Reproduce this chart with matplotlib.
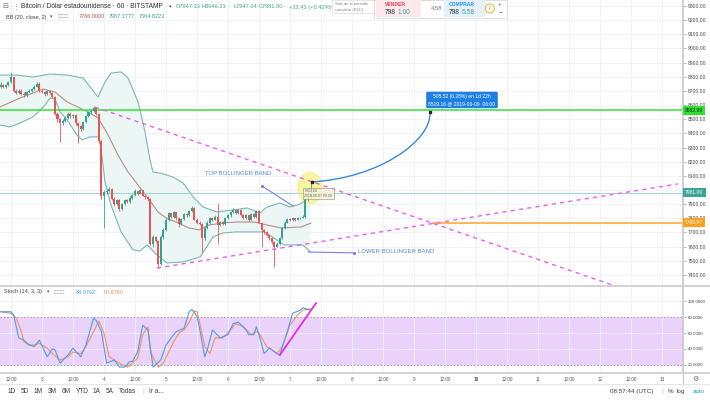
import numpy as np
import matplotlib
matplotlib.use("Agg")
import matplotlib.pyplot as plt
from matplotlib.path import Path
from matplotlib.patches import PathPatch, Ellipse, Rectangle
from matplotlib.lines import Line2D

plt.rcParams['font.family'] = ['Liberation Sans', 'DejaVu Sans']

# ---------------- data (hours counted from 2019-06-02 00:00, 1h candles) ----------------
first_hour = 8
open_ = [8730, 8745, 8725, 8740, 8762, 8795, 8700, 8688, 8702, 8680,
         8668, 8690, 8700, 8712, 8730, 8752, 8700, 8690, 8678, 8700,
         8688, 8660, 8540, 8500, 8470, 8490, 8510, 8540, 8520, 8530,
         8470, 8450, 8430, 8480, 8522, 8548, 8560, 8576, 8540, 8345,
         7955, 7985, 7995, 8010, 7940, 7900, 7930, 7865, 7900, 7930,
         7912, 7945, 7962, 7990, 7975, 7998, 7960, 7950, 7940, 7620,
         7665, 7640, 7475, 7665, 7720, 7790, 7835, 7810, 7842, 7800,
         7760, 7792, 7830, 7820, 7852, 7875, 7790, 7770, 7760, 7660,
         7730, 7770, 7800, 7790, 7810, 7752, 7772, 7760, 7800, 7820,
         7845, 7860, 7835, 7860, 7825, 7800, 7820, 7790, 7830, 7810,
         7855, 7770, 7720, 7700, 7680, 7660, 7630, 7600, 7622, 7660,
         7730, 7770, 7795, 7785, 7800, 7790, 7800, 7805, 7812, 7935,
         7947.33]
high = [8760, 8750, 8750, 8770, 8830, 8800, 8710, 8712, 8710, 8690,
        8698, 8712, 8720, 8740, 8760, 8760, 8712, 8700, 8708, 8705,
        8695, 8665, 8548, 8510, 8500, 8520, 8550, 8548, 8540, 8540,
        8478, 8460, 8490, 8530, 8556, 8570, 8590, 8580, 8545, 8350,
        8000, 8010, 8020, 8015, 7948, 7940, 7938, 7910, 7940, 7940,
        7955, 7975, 8007, 7995, 8005, 8000, 7968, 7958, 7945, 7680,
        7675, 7650, 7680, 7730, 7800, 7845, 7840, 7850, 7848, 7810,
        7800, 7840, 7840, 7860, 7885, 7880, 7800, 7780, 7768, 7740,
        7780, 7810, 7808, 7820, 7905, 7780, 7780, 7808, 7830, 7855,
        7870, 7868, 7868, 7865, 7830, 7828, 7825, 7838, 7835, 7862,
        7860, 7775, 7728, 7708, 7690, 7668, 7640, 7630, 7668, 7738,
        7778, 7805, 7800, 7810, 7805, 7808, 7812, 7820, 7945, 8005,
        8046.23]
low = [8722, 8718, 8720, 8735, 8755, 8690, 8680, 8680, 8670, 8655,
       8660, 8685, 8695, 8705, 8725, 8695, 8682, 8665, 8672, 8680,
       8650, 8530, 8480, 8340, 8462, 8482, 8500, 8510, 8512, 8460,
       8335, 8420, 8425, 8470, 8515, 8540, 8550, 8530, 8335, 7940,
       7735, 7975, 7985, 7930, 7890, 7895, 7855, 7858, 7895, 7905,
       7905, 7938, 7955, 7965, 7970, 7955, 7940, 7925, 7610, 7600,
       7630, 7450, 7470, 7655, 7712, 7780, 7800, 7805, 7790, 7740,
       7752, 7785, 7812, 7815, 7845, 7785, 7760, 7750, 7562, 7650,
       7722, 7762, 7782, 7785, 7620, 7745, 7752, 7755, 7792, 7812,
       7838, 7828, 7830, 7818, 7795, 7795, 7782, 7785, 7800, 7805,
       7765, 7600, 7692, 7672, 7650, 7622, 7455, 7595, 7615, 7652,
       7722, 7765, 7778, 7780, 7782, 7785, 7795, 7800, 7805, 7925,
       7947.04]
close = [8745, 8725, 8740, 8762, 8795, 8700, 8688, 8702, 8680, 8668,
         8690, 8700, 8712, 8730, 8752, 8700, 8690, 8678, 8700, 8688,
         8660, 8540, 8500, 8470, 8490, 8510, 8540, 8520, 8530, 8470,
         8450, 8430, 8480, 8522, 8548, 8560, 8576, 8540, 8345, 7955,
         7985, 7995, 8010, 7940, 7900, 7930, 7865, 7900, 7930, 7912,
         7945, 7962, 7990, 7975, 7998, 7960, 7950, 7940, 7620, 7665,
         7640, 7475, 7665, 7720, 7790, 7835, 7810, 7842, 7800, 7760,
         7792, 7830, 7820, 7852, 7875, 7790, 7770, 7760, 7660, 7730,
         7770, 7800, 7790, 7810, 7752, 7772, 7760, 7800, 7820, 7845,
         7860, 7835, 7860, 7825, 7800, 7820, 7790, 7830, 7810, 7855,
         7770, 7720, 7700, 7680, 7660, 7630, 7600, 7622, 7660, 7730,
         7770, 7795, 7785, 7800, 7790, 7800, 7805, 7812, 7935, 7947,
         7981.00]

# Bollinger Bands (20, close, 2)
bb_upper_h = [7.7, 14.3, 20.5, 27.1, 33.7, 39.9, 45.7, 48.4, 50.7, 54.6,
              57.3, 61.2, 63.9, 65.8, 67.0, 69.7, 74.7, 78.6, 82.5, 86.3,
              91.8, 97.9, 103.4, 108.4, 111.1, 116.1, 120.0, 123.9, 126.2, 127.8]
bb_upper = [8812, 8812, 8798, 8819, 8812, 8791, 8657, 8763, 8826, 8834,
            8791, 8622, 8410, 8212, 8127, 8120, 8092, 8050, 7951, 7880,
            7845, 7859, 7873, 7838, 7880, 7908, 7880, 7901, 7930, 7967]
bb_lower_h = [7.7, 11.6, 15.5, 20.5, 25.2, 27.1, 29.0, 31.0, 33.7, 37.5,
              39.5, 42.6, 46.1, 47.2, 48.4, 50.7, 54.6, 59.2, 61.9, 64.7,
              68.5, 72.4, 78.6, 85.2, 87.5, 90.2, 94.1, 99.1, 104.5, 110.0,
              113.8, 117.7, 125.0, 127.8]
bb_lower = [8459, 8445, 8473, 8516, 8600, 8650, 8643, 8551, 8495, 8389,
            8353, 8375, 8375, 8240, 8057, 7894, 7704, 7577, 7569, 7612,
            7541, 7485, 7492, 7527, 7591, 7668, 7697, 7704, 7704, 7704,
            7661, 7612, 7612, 7565]
bb_mid_h = [7.7, 15.5, 24.4, 29.0, 33.7, 37.9, 41.8, 45.7, 49.6, 53.4,
            57.3, 61.2, 65.0, 68.9, 72.0, 75.9, 80.9, 84.8, 88.7, 94.1,
            99.1, 106.1, 111.1, 116.5, 124.3, 128.1]
bb_mid = [8586, 8650, 8713, 8692, 8622, 8586, 8551, 8509, 8389, 8247,
          8127, 8036, 7944, 7845, 7803, 7774, 7732, 7718, 7753, 7767,
          7774, 7774, 7753, 7732, 7739, 7766]

# Stochastic (14, 3, 3)
stoch_k_h = [8, 12, 13, 15, 17, 19, 21, 23, 26, 28, 29, 31, 34, 36, 39, 41, 44, 45, 47, 49,
             52, 54, 56, 58, 59, 61, 63, 65, 67, 68, 70, 72, 74, 76, 79, 81, 82, 84, 85, 87,
             88, 90, 93, 96, 98, 100, 103, 104, 106, 107, 108, 110, 112, 115, 116, 119, 121, 124, 125, 128]
stoch_k = [87, 87, 83, 54, 51, 45, 43, 51, 30, 40, 39, 22, 32, 41, 30, 45, 79, 76, 62, 22,
           26, 17, 17, 24, 24, 36, 70, 64, 17, 20, 26, 45, 54, 62, 66, 87, 90, 81, 66, 30,
           39, 64, 54, 58, 72, 74, 64, 58, 58, 68, 58, 34, 41, 34, 32, 62, 85, 89, 92, 88.98]
stoch_d_h = [8, 12, 14, 16, 17, 19, 21, 23, 26, 28, 31, 34, 36, 39, 41, 44, 46, 48, 50, 52,
             55, 57, 59, 61, 63, 65, 66, 69, 71, 73, 75, 77, 79, 81, 83, 84, 85, 87, 89, 91,
             94, 97, 99, 102, 105, 107, 108, 111, 113, 115, 117, 120, 123, 125, 128]
stoch_d = [87, 85, 79, 62, 49, 45, 45, 47, 41, 34, 26, 30, 36, 34, 43, 62, 75, 60, 30, 26,
           20, 17, 22, 28, 58, 68, 36, 17, 22, 36, 49, 60, 64, 74, 88, 87, 74, 43, 34, 54,
           54, 64, 72, 68, 58, 62, 60, 43, 39, 34, 43, 70, 83, 89, 90.68]

# drawings (hour, value)
level_green = 8562.99
level_orange = 7769.97
last_price = 7981.00
orange_start_h = 175
trend_down_h, trend_down_p = [44.5, 262.0], [8586, 7221]
trend_up_h, trend_up_p = [68.5, 270.2], [7449, 8043]
stoch_line_h, stoch_line_v = [116.1, 130.1], [32.3, 98.0]
forecast_h = [128.5, 154.9, 175.0, 174.2]
forecast_p = [8057, 8085, 8353, 8551]

tick_hours = list(range(12, 265, 12))
tick_labels = ['12:00', '3', '12:00', '4', '12:00', '5', '12:00', '6', '12:00', '7', '12:00',
               '8', '12:00', '9', '12:00', '10', '12:00', '11', '12:00', '12', '12:00', '13']
price_ticks = list(range(7400, 9301, 100))
hidden_price_ticks = [8000]          # covered by the last-price tag
stoch_ticks = [20, 40, 60, 80, 100]

# ---------------- figure ----------------
W, H = 710, 400
fig = plt.figure(figsize=(7.1, 4.0), dpi=100)
fig.patch.set_facecolor('white')

def fx(px):
    return px / W

def fy(py):
    return 1 - py / H

PX_PER_H = 2.583
XLIM = (24 - 42 / PX_PER_H, 24 + (683 - 42) / PX_PER_H)
GRID = '#eef0f5'
AXC = '#c9ccd3'
UP, DN = '#33a58a', '#ec5353'

# ---- main price pane ----
ax = fig.add_axes([0, fy(286), fx(683), 286 / H])
ax.set_xlim(*XLIM)
ax.set_ylim(7322, 9342)
for s in ['top', 'left', 'bottom']:
    ax.spines[s].set_visible(False)
ax.spines['right'].set_color(AXC)
ax.spines['right'].set_linewidth(1.3)
ax.yaxis.tick_right()
ax.set_yticks(price_ticks)
ax.set_yticklabels(['' if p in hidden_price_ticks else f'{p:.2f}' for p in price_ticks])
ax.tick_params(axis='y', length=2, width=0.5, color='#9a9a9a', pad=1.5,
               labelsize=3.6, labelcolor='#444444')
ax.set_xticks(tick_hours)
ax.tick_params(axis='x', length=0, labelbottom=False)
ax.grid(True, color=GRID, lw=0.6)
ax.set_axisbelow(True)

hrs = np.arange(first_hour, first_hour + len(close))
o = np.array(open_, float); c = np.array(close, float)
hi = np.array(high, float); lo = np.array(low, float)
col = np.where(c >= o, UP, DN)

# Bollinger band
ax.fill(np.r_[bb_upper_h, bb_lower_h[::-1]], np.r_[bb_upper, bb_lower[::-1]],
        color='#ecf6f4', lw=0, zorder=1)
ax.plot(bb_upper_h, bb_upper, color='#7ab8b2', lw=0.8, zorder=2)
ax.plot(bb_lower_h, bb_lower, color='#7ab8b2', lw=0.8, zorder=2)
ax.plot(bb_mid_h, bb_mid, color='#b88e8a', lw=0.8, zorder=2)

# highlight ellipse
ax.add_patch(Ellipse((127.8, 8014), 9.3, 220, fc='#fbf48f', ec='#f3e56a', lw=0.5,
                     alpha=0.85, zorder=2.2))

# levels
ax.axhline(last_price, color='#8fcfc6', lw=0.6, zorder=2.5)
ax.axhline(level_green, color='#36e036', lw=1.1, zorder=2.5)
ax.hlines(level_orange, orange_start_h, XLIM[1], color='#ffb24a', lw=1.3, zorder=2.5)

# candles
ax.vlines(hrs, lo, hi, colors=col, lw=0.6, zorder=3)
ax.bar(hrs, np.maximum(np.abs(c - o), 4), bottom=np.minimum(o, c), width=0.78,
       color=col, lw=0, zorder=3.2)

# trend lines
ax.plot(trend_down_h, trend_down_p, color='#ec5fec', lw=1.0, ls=(0, (3, 3)), zorder=4)
ax.plot(trend_up_h, trend_up_p, color='#ec5fec', lw=1.0, ls=(0, (3, 3)), zorder=4)

# forecast curve
verts = list(zip(forecast_h, forecast_p))
ax.add_patch(PathPatch(Path(verts, [Path.MOVETO, Path.CURVE4, Path.CURVE4, Path.CURVE4]),
                       fc='none', ec='#3b89e0', lw=1.0, zorder=4))
ax.plot([forecast_h[0], forecast_h[-1]], [forecast_p[0], forecast_p[-1]], ls='none',
        marker='s', ms=1.8, color='#222222', zorder=5)
ax.text(186.6, 8636, '505.52 (6.28%) en 1d 22h\n8519.16 @ 2019-06-09  06:00',
        fontsize=3.6, color='white', ha='center', va='center', linespacing=1.5,
        bbox=dict(boxstyle='round,pad=0.45,rounding_size=0.3', fc='#1f7fe0', ec='none'),
        zorder=6)

# small tooltip near last candle
ax.text(125.6, 7975, '8013.64\n2019-06-07 08:00', fontsize=2.5, color='#666666',
        ha='left', va='center', linespacing=1.3,
        bbox=dict(boxstyle='square,pad=0.4', fc='#f6f3d8', ec='#8a8a8a', lw=0.5, alpha=0.8),
        zorder=5)

# annotations
ax.text(87.1, 8120, 'TOP BOLLINGER BAND', fontsize=4.3, color='#5b86e6', va='center',
        ha='left', zorder=5)
ax.plot([109.2, 121.2], [8028, 7887], color='#7b7cec', lw=0.8, zorder=5)
ax.plot([109.2], [8028], marker='o', ms=1.2, color='#7b7cec', zorder=5)
ax.text(146.3, 7569, 'LOWER BOLLINGER BAND', fontsize=4.3, color='#5b86e6', va='center',
        ha='left', zorder=5)
ax.plot([127.0, 144.8], [7562, 7556], color='#7b7cec', lw=0.8, zorder=5)
ax.plot([144.8], [7556], marker='o', ms=1.2, color='#7b7cec', zorder=5)

# price labels on the axis
def price_box(y, txt, fc, tc):
    ax.text(1.003, y, txt, transform=ax.get_yaxis_transform(), fontsize=3.6, color=tc,
            va='center', ha='left', clip_on=False, zorder=10,
            bbox=dict(boxstyle='square,pad=0.45', fc=fc, ec='none'))

price_box(level_green, f'{level_green:.2f}', '#2fe02f', '#113311')
price_box(last_price, f'{last_price:.2f}', '#3aa598', 'white')
price_box(level_orange, f'{level_orange:.2f}', '#ff9e1f', 'white')

# ---- stochastic pane ----
ax2 = fig.add_axes([0, fy(373), fx(683), 87 / H])
ax2.set_xlim(*XLIM)
ax2.set_ylim(9.5, 119.6)
for s in ['top', 'left', 'bottom']:
    ax2.spines[s].set_visible(False)
ax2.spines['right'].set_color(AXC)
ax2.spines['right'].set_linewidth(1.3)
ax2.yaxis.tick_right()
ax2.set_yticks(stoch_ticks)
ax2.set_yticklabels([f'{v:.4f}' for v in stoch_ticks])
ax2.tick_params(axis='y', length=2, width=0.5, color='#9a9a9a', pad=1.5,
                labelsize=3.2, labelcolor='#444444')
ax2.set_xticks(tick_hours)
ax2.set_xticklabels(tick_labels)
ax2.tick_params(axis='x', length=0, pad=3.0, labelsize=3.3, labelcolor='#555555')
for lab in ax2.get_xticklabels():
    if lab.get_text() == '10':
        lab.set_fontweight('bold')
ax2.grid(True, color=GRID, lw=0.6)
ax2.set_axisbelow(True)
ax2.axhspan(20, 80, color='#ead2fb', lw=0, zorder=0.5)
ax2.axhline(80, color='#9b86a8', lw=0.6, ls=(0, (2, 2)), zorder=1)
ax2.axhline(20, color='#9b86a8', lw=0.6, ls=(0, (2, 2)), zorder=1)
ax2.plot(stoch_d_h, stoch_d, color='#f5915a', lw=0.8, zorder=2)
ax2.plot(stoch_k_h, stoch_k, color='#4a9ee8', lw=0.8, zorder=2.1)
ax2.plot(stoch_line_h, stoch_line_v, color='#e42ee4', lw=1.3, zorder=3)

# ---- separators ----
def hline_px(y, x0=0, x1=W, color=AXC, lw=1.2):
    fig.add_artist(Line2D([fx(x0), fx(x1)], [fy(y), fy(y)], transform=fig.transFigure,
                          color=color, lw=lw))

hline_px(286)
hline_px(373)
hline_px(384, color='#e3e6ec', lw=0.8)
fig.add_artist(Line2D([fx(683), fx(683)], [fy(373), fy(384)], transform=fig.transFigure,
                      color=AXC, lw=1.0))

# ---- header texts ----
def t(px, py, s, size=4.4, color='#333333', **kw):
    fig.text(fx(px), fy(py), s, fontsize=size, color=color, va='center', ha='left', **kw)

t(2, 7, '⊟', size=5, color='#777777')
t(13, 7, '⋮', size=5, color='#888888')
t(21, 7, 'Bitcoin / Dólar estadounidense · 60 · BITSTAMP', size=4.8, color='#333333')
t(168.5, 7, '▾', size=3.6, color='#555555')
GRN = '#41a98a'
t(176, 7, 'O7947.33', size=4.1, color=GRN)
t(202, 7, 'H8046.23', size=4.1, color=GRN)
t(233, 7, 'L7947.04', size=4.1, color=GRN)
t(259, 7, 'C7981.00', size=4.1, color=GRN)
t(289, 7, '+33.43 (+0.42%)', size=4.1, color=GRN)

t(6, 17, 'BB (20, close, 2)', size=4.0, color='#444444')
t(50, 17, '▾', size=3.4, color='#555555')
t(58, 17, '□□□', size=4.0, color='#9a9a9a')
t(79, 17, '7766.0000', size=4.0, color='#b4534f')
t(109, 17, '7967.1777', size=4.0, color='#3a9d98')
t(139, 17, '7564.8223', size=4.0, color='#3a9d98')

# fullscreen hint + buy/sell panel
fig.add_artist(Rectangle((fx(332), fy(13)), fx(46), 13 / H, transform=fig.transFigure,
                         fc='white', ec='#d8dbe0', lw=0.5))
t(335, 3.5, 'Salir de la pantalla', size=2.9, color='#888888')
t(335, 9.5, 'completa (ESC)', size=2.9, color='#888888')
fig.add_artist(Rectangle((fx(374), fy(18)), fx(133), 18 / H, transform=fig.transFigure,
                         fc='white', ec='#d5d8de', lw=0.6))
fig.add_artist(Rectangle((fx(376), fy(17)), fx(45), 17 / H, transform=fig.transFigure,
                         fc='#fde9ec', ec='none'))
fig.add_artist(Rectangle((fx(444), fy(17)), fx(41), 17 / H, transform=fig.transFigure,
                         fc='#e4f0fc', ec='none'))
t(385, 4.5, 'VENDER', size=3.6, color='#f0394d', fontweight='bold')
t(385, 12, '798', size=4.8, color='#333333')
t(397.5, 12, '1.00', size=4.8, color='#3aa598')
t(431, 8.5, '4.58', size=4.3, color='#777777')
t(449, 4.5, 'COMPRAR', size=3.6, color='#2196f3', fontweight='bold')
t(449, 12, '798', size=4.8, color='#333333')
t(461.5, 12, '5.58', size=4.8, color='#3aa598')
t(489, 8.5, 'i', size=4.2, color='#f5a623', fontweight='bold',
  bbox=dict(boxstyle='circle,pad=0.35', fc='white', ec='#f5a623', lw=0.7))
t(498, 4, '+', size=4.5, color='#555555')
t(498.5, 11.5, '−', size=4.5, color='#555555')

# stoch header
t(4, 292, 'Stoch (14, 3, 3)', size=4.0, color='#444444')
t(47, 292, '▾', size=3.4, color='#555555')
t(54, 292, '□□□', size=4.0, color='#9a9a9a')
t(76, 292, '88.9762', size=4.0, color='#4a9ee8')
t(104, 292, '90.6760', size=4.0, color='#f5894e')

# bottom toolbar
for px, s in [(8, '1D'), (21, '5D'), (34, '1M'), (48, '3M'), (62, '6M'), (76, 'YTD'),
              (93, '1A'), (106, '5A'), (119, 'Todas')]:
    t(px, 391.5, s, size=4.7, color='#3c3c3c')
t(142, 391.5, '|', size=5, color='#cccccc')
t(149, 391.5, 'Ir a...', size=4.7, color='#3c3c3c')
t(610, 391.5, '08:57:44 (UTC)', size=4.5, color='#3c3c3c')
t(661, 391.5, '|', size=5, color='#cccccc')
t(668, 391.5, '%', size=4.5, color='#3c3c3c')
t(677, 391.5, 'log', size=4.5, color='#3c3c3c')
t(693, 391.5, 'auto', size=4.5, color='#2196f3')
t(692, 379, '⚙', size=5, color='#666666')

fig.savefig('out.png', dpi=100, facecolor='white')
